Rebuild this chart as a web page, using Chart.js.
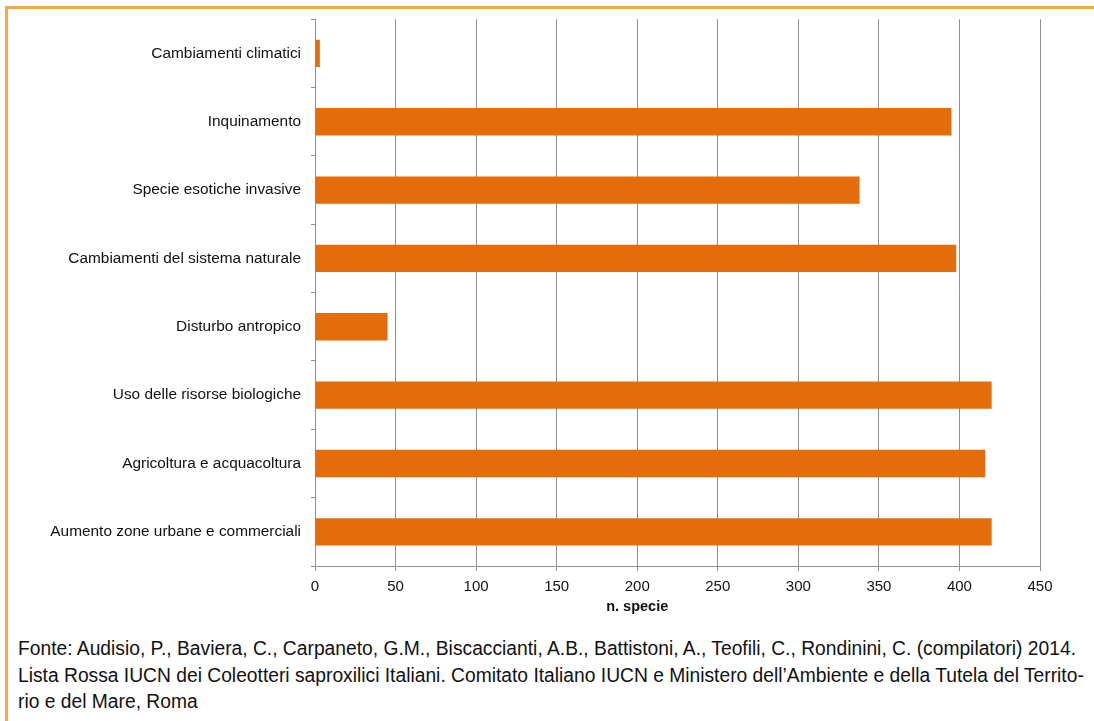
<!DOCTYPE html>
<html>
<head>
<meta charset="utf-8">
<script src="https://cdn.jsdelivr.net/npm/chart.js@4"></script>
<style>
  body { margin: 0; background: #fff; width: 1094px; height: 721px; overflow: hidden; position: relative; }
  .frame { position: absolute; left: 5px; top: 6px; right: -10px; bottom: -10px;
           border-top: 3px solid #F9A54B; border-left: 3px solid #F9A54B; }
  .chartbox { position: absolute; left: 0; top: 0; width: 1094px; height: 625px; }
  .note { position: absolute; left: 18px; top: 635px; font-family: "Liberation Sans", Arial, sans-serif;
          font-size: 19.5px; line-height: 26.5px; color: #111; white-space: nowrap; }
  .note div { transform-origin: 0 50%; width: max-content; }
</style>
</head>
<body>
<div class="frame"></div>
<div class="chartbox"><canvas id="myChart" width="1094" height="625"></canvas></div>
<div class="note" id="note">
  <div>Fonte: Audisio, P., Baviera, C., Carpaneto, G.M., Biscaccianti, A.B., Battistoni, A., Teofili, C., Rondinini, C. (compilatori) 2014.</div>
  <div>Lista Rossa IUCN dei Coleotteri saproxilici Italiani. Comitato Italiano IUCN e Ministero dell’Ambiente e della Tutela del Territo-</div>
  <div>rio e del Mare, Roma</div>
</div>
<script>
const categories = ['Cambiamenti climatici', 'Inquinamento', 'Specie esotiche invasive', 'Cambiamenti del sistema naturale',
  'Disturbo antropico', 'Uso delle risorse biologiche', 'Agricoltura e acquacoltura', 'Aumento zone urbane e commerciali'];
const nSpecie = [3, 395, 338, 398, 45, 420, 416, 420];
const xTicks = [0, 50, 100, 150, 200, 250, 300, 350, 400, 450];
const axisTitle = 'n. specie';

const gridGrey = '#8e8e8e';

// no narrow font installed, so squeeze the source note horizontally to the original line length
const lines = document.querySelectorAll('#note div');
const squeeze = 1058 / lines[0].getBoundingClientRect().width;
lines.forEach(l => { l.style.transform = 'scaleX(' + squeeze + ')'; });

// axis title sits under the 200 tick in the original, not centred on the plot
const axisTitlePlugin = {
  id: 'axisTitle',
  afterDraw(chart) {
    const c = chart.ctx;
    const x = chart.scales.x.getPixelForValue(200);
    c.save();
    c.font = 'bold 14.5px "Liberation Sans", Arial, sans-serif';
    c.fillStyle = '#111';
    c.textAlign = 'center';
    c.textBaseline = 'middle';
    c.fillText(axisTitle, x, chart.chartArea.bottom + 41);
    c.restore();
  }
};

const ctx = document.getElementById('myChart');

new Chart(ctx, {
  type: 'bar',
  data: {
    labels: categories,
    datasets: [{
      data: nSpecie,
      backgroundColor: '#E46C0A',
      borderWidth: 0,
      barPercentage: 0.4,
      categoryPercentage: 1
    }]
  },
  options: {
    indexAxis: 'y',
    responsive: false,
    animation: false,
    events: [],
    layout: { padding: { top: 17, right: 54, left: 0, bottom: 0 } },
    plugins: { legend: { display: false }, tooltip: { enabled: false }, title: { display: false } },
    scales: {
      x: {
        min: 0, max: 450,
        afterBuildTicks(scale) { scale.ticks = xTicks.map(v => ({ value: v })); },
        afterFit(scale) { scale.height = 59; },
        grid: { color: gridGrey, lineWidth: 1, tickLength: 5 },
        border: { color: gridGrey },
        ticks: { color: '#111', padding: 7, font: { family: '"Liberation Sans", Arial, sans-serif', size: 15 } }
      },
      y: {
        afterFit(scale) { scale.width = 315; },
        grid: { drawOnChartArea: false, color: gridGrey, tickLength: 4, offset: true },
        border: { color: gridGrey },
        ticks: { color: '#111', padding: 10, font: { family: '"Liberation Sans", Arial, sans-serif', size: 15.4 } }
      }
    }
  },
  plugins: [axisTitlePlugin]
});
</script>
</body>
</html>
